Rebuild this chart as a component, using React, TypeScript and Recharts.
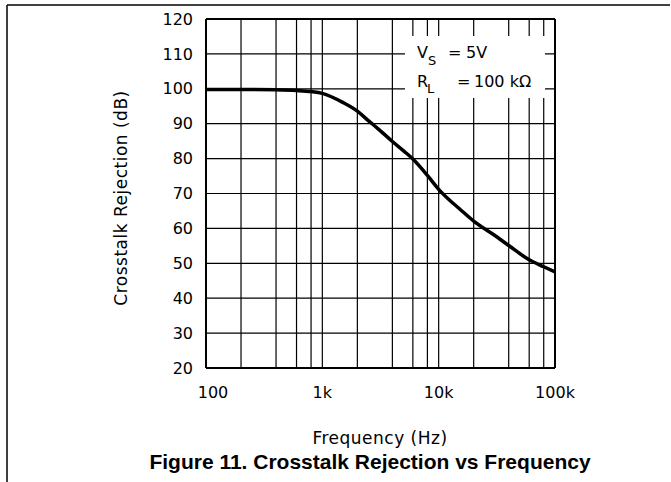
import { LineChart, Line, XAxis, YAxis, ReferenceLine } from 'recharts';

// frequency points (Hz) and crosstalk rejection (dB)
const freqHz = [100, 200, 400, 600, 800, 1000, 1500, 2000, 2500, 3000, 4000, 5000, 6000, 8000, 10000, 12500, 15000, 20000, 30000, 40000, 60000, 80000, 100000];
const rejectionDb = [99.8, 99.8, 99.7, 99.5, 99.2, 98.7, 96.1, 93.6, 90.8, 88.6, 84.9, 82.2, 79.9, 75.2, 71.2, 68.0, 65.7, 62.1, 58.1, 55.1, 51.0, 49.0, 47.5];

const xTicks = [100, 1000, 10000, 100000];
const xTickLabels = ['100', '1k', '10k', '100k'];
const yTicks = [20, 30, 40, 50, 60, 70, 80, 90, 100, 110, 120];
const gridFreqs = [200, 400, 600, 800, 1000, 2000, 4000, 6000, 8000, 10000, 20000, 40000, 60000, 80000];
const gridDb = [30, 40, 50, 60, 70, 80, 90, 100, 110];

const rows = freqHz.map((f, i) => ({ freq: f, db: rejectionDb[i] }));

const tickFont = { fill: '#000', fontSize: 16, fontFamily: 'DejaVu Sans' };
const labelFont = { fill: '#000', fontSize: 17, fontFamily: 'DejaVu Sans', letterSpacing: 0.5 };

// the "100" label sits a little right of its grid line in the original
const FreqTick = ({ x, y, payload }: any) => {
  const i = xTicks.indexOf(payload.value);
  return (
    <text x={x + (i === 0 ? 7 : 0)} y={y} dy="0.71em" textAnchor="middle" {...tickFont}>
      {xTickLabels[i]}
    </text>
  );
};

const App = () => {
  return (
    <div style={{ position: 'absolute', left: 0, top: 0, width: 671, height: 482, background: '#fff' }}>
      <LineChart width={671} height={482} data={rows} margin={{ top: 19, right: 116, bottom: 74, left: 146 }}>
        <XAxis
          dataKey="freq"
          type="number"
          scale="log"
          domain={[100, 100000]}
          ticks={xTicks}
          interval={0}
          allowDataOverflow
          tickLine={false}
          tickSize={0}
          tickMargin={19}
          height={40}
          axisLine={{ stroke: '#000', strokeWidth: 2 }}
          tick={<FreqTick />}
        />
        <YAxis
          type="number"
          domain={[20, 120]}
          ticks={yTicks}
          interval={0}
          tickLine={false}
          tickSize={0}
          tickMargin={13}
          width={60}
          axisLine={{ stroke: '#000', strokeWidth: 2 }}
          tick={tickFont}
        />
        {gridFreqs.map((f) => (
          <ReferenceLine key={'x' + f} x={f} stroke="#000" strokeWidth={1.2} />
        ))}
        {gridDb.map((d) => (
          <ReferenceLine key={'y' + d} y={d} stroke="#000" strokeWidth={1.2} />
        ))}
        <ReferenceLine x={100000} stroke="#000" strokeWidth={2} />
        <ReferenceLine y={120} stroke="#000" strokeWidth={2} />
        <Line dataKey="db" type="monotone" stroke="#000" strokeWidth={3.5} dot={false} isAnimationActive={false} />
      </LineChart>

      <svg width={671} height={482} style={{ position: 'absolute', left: 0, top: 0, pointerEvents: 'none' }}>
        <line x1={7} y1={5} x2={670} y2={5} stroke="#000" strokeWidth={1.5} />
        <line x1={7} y1={5} x2={7} y2={482} stroke="#000" strokeWidth={1.5} />

        <rect x={405} y={36} width={140} height={62} fill="#fff" />
        <g fontFamily="DejaVu Sans" fill="#000">
          <text x={417} y={58} fontSize={16}>V</text>
          <text x={428} y={65} fontSize={13}>S</text>
          <text x={448} y={58} fontSize={16}>=</text>
          <text x={466} y={58} fontSize={16}>5V</text>
          <text x={417} y={87} fontSize={16}>R</text>
          <text x={427} y={93} fontSize={13}>L</text>
          <text x={457} y={87} fontSize={16}>=</text>
          <text x={474} y={87} fontSize={16}>100 kΩ</text>
        </g>

        <text
          x={121}
          y={198}
          transform="rotate(-90, 121, 198)"
          textAnchor="middle"
          dominantBaseline="central"
          {...labelFont}
        >
          Crosstalk Rejection (dB)
        </text>
        <text x={380} y={444} textAnchor="middle" {...labelFont}>
          Frequency (Hz)
        </text>
        <text x={370} y={469} textAnchor="middle" fontFamily="Liberation Sans" fontWeight="bold" fontSize={21} fill="#000">
          Figure 11. Crosstalk Rejection vs Frequency
        </text>
      </svg>
    </div>
  );
};

export default App;
